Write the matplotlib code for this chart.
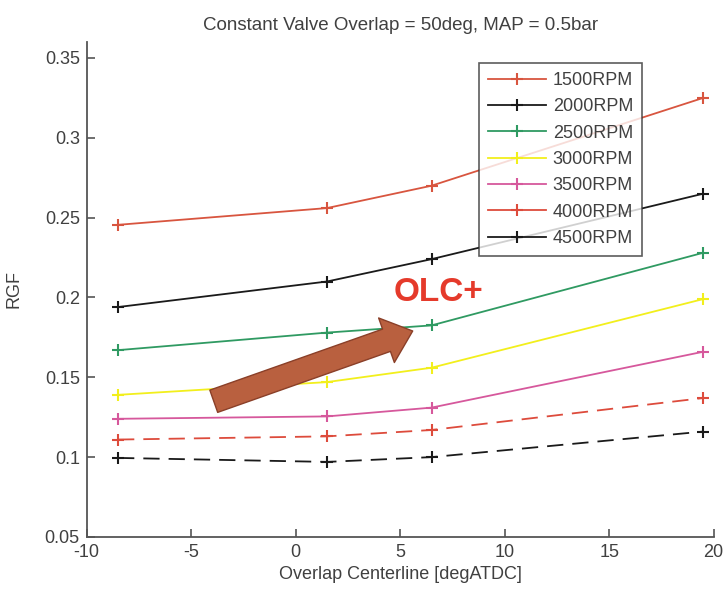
import numpy as np
import matplotlib
matplotlib.use("Agg")
import matplotlib.pyplot as plt
from matplotlib.patches import FancyArrowPatch
from matplotlib.lines import Line2D

plt.rcParams['font.family'] = ['Liberation Sans', 'DejaVu Sans']
plt.rcParams['axes.unicode_minus'] = False

# overlap centerline positions
olc = [-8.5, 1.5, 6.5, 19.5]
rpm_labels = ['1500RPM', '2000RPM', '2500RPM', '3000RPM', '3500RPM', '4000RPM', '4500RPM']
rgf_1500 = [0.2455, 0.256, 0.270, 0.325]
rgf_2000 = [0.194, 0.210, 0.224, 0.265]
rgf_2500 = [0.167, 0.178, 0.1825, 0.228]
rgf_3000 = [0.139, 0.147, 0.156, 0.199]
rgf_3500 = [0.124, 0.1255, 0.131, 0.166]
rgf_4000 = [0.111, 0.113, 0.117, 0.137]
rgf_4500 = [0.0995, 0.097, 0.100, 0.116]

series = [rgf_1500, rgf_2000, rgf_2500, rgf_3000, rgf_3500, rgf_4000, rgf_4500]
colors = ['#d8553f', '#1a1a1a', '#2f9a62', '#f2ef1c', '#d6589c', '#dd4b3c', '#1a1a1a']
styles = ['-', '-', '-', '-', '-', (0, (9, 5)), (0, (9, 5))]

fig = plt.figure(figsize=(7.25, 5.92), dpi=100)
ax = fig.add_axes([0.1196, 0.093, 0.8647, 0.836])

for vals, c, ls in zip(series, colors, styles):
    ax.plot(olc, vals, color=c, linestyle=ls, lw=1.3, marker='+', ms=9, mew=1.5)

ax.set_xlim(-10, 20)
ax.set_ylim(0.05, 0.36)
ax.set_xticks(np.arange(-10, 21, 5))
ax.set_yticks([0.05, 0.1, 0.15, 0.2, 0.25, 0.3, 0.35])
ax.set_yticklabels(['0.05', '0.1', '0.15', '0.2', '0.25', '0.3', '0.35'])
ax.spines['top'].set_visible(False)
ax.spines['right'].set_visible(False)
for s in ['left', 'bottom']:
    ax.spines[s].set_color('#555555')
    ax.spines[s].set_linewidth(1.3)
ax.tick_params(direction='in', length=6, width=1.2, colors='#555555', labelsize=13,
               labelcolor='#404040', pad=5)

ax.set_title('Constant Valve Overlap = 50deg, MAP = 0.5bar', fontsize=13.5, color='#404040', pad=9)
ax.set_xlabel('Overlap Centerline [degATDC]', fontsize=13, color='#404040', labelpad=4)
ax.set_ylabel('RGF', fontsize=13, color='#404040', labelpad=16)

# legend uses solid lines for every entry
handles = [Line2D([], [], color=c, lw=1.3, marker='+', ms=9, mew=1.5) for c in colors]
leg = ax.legend(handles, rpm_labels, loc='upper right', bbox_to_anchor=(0.886, 0.958),
                borderaxespad=0, fontsize=13, frameon=True, fancybox=False,
                handlelength=3.2, labelspacing=0.52, borderpad=0.5, handletextpad=0.4)
leg.get_frame().set_edgecolor('#333333')
leg.get_frame().set_linewidth(1.2)
for t in leg.get_texts():
    t.set_color('#404040')

# OLC+ arrow
arr = FancyArrowPatch((-3.92, 0.135), (5.6, 0.179),
                      arrowstyle='simple,head_width=3.4,head_length=2.0,tail_width=1.7',
                      mutation_scale=10, shrinkA=0, shrinkB=0,
                      facecolor='#b9603f', edgecolor='#8a3f28', lw=1, zorder=5)
ax.add_patch(arr)
ax.text(6.84, 0.203, 'OLC+', color='#e53a2b', fontsize=24, fontweight='bold',
        ha='center', va='center', zorder=6)

fig.savefig('out.png', dpi=100)
